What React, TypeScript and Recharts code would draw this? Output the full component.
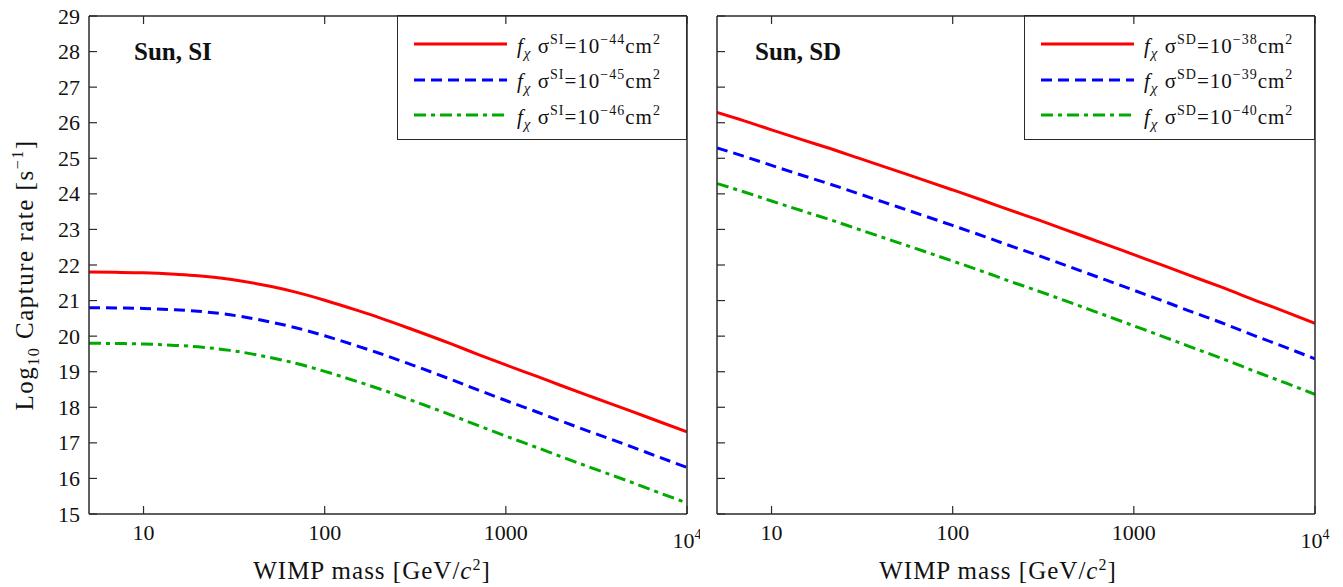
import React from "react";
import { LineChart, Line, XAxis, YAxis, Legend, Label } from "recharts";

const SERIF = '"Liberation Serif", "DejaVu Serif", serif';

// WIMP mass [GeV/c^2]
const masses = [5, 7, 10, 15, 20, 30, 50, 70, 100, 150, 200, 300, 500, 700, 1000, 1500, 2000, 3000, 5000, 7000, 10000];

// log10 capture rate, spin-independent (sigma = 1e-44, 1e-45, 1e-46 cm^2)
const si44 = [21.8, 21.793, 21.78, 21.74, 21.7, 21.6, 21.4, 21.23, 21.01, 20.73, 20.52, 20.2, 19.78, 19.49, 19.19, 18.86, 18.62, 18.29, 17.88, 17.6, 17.31];
const si45 = [20.8, 20.793, 20.78, 20.74, 20.7, 20.6, 20.4, 20.23, 20.01, 19.73, 19.52, 19.2, 18.78, 18.49, 18.19, 17.86, 17.62, 17.29, 16.88, 16.6, 16.31];
const si46 = [19.8, 19.793, 19.78, 19.74, 19.7, 19.6, 19.4, 19.23, 19.01, 18.73, 18.52, 18.2, 17.78, 17.49, 17.19, 16.86, 16.62, 16.29, 15.88, 15.6, 15.31];

// log10 capture rate, spin-dependent (sigma = 1e-38, 1e-39, 1e-40 cm^2)
const sd38 = [26.29, 26.06, 25.8, 25.51, 25.31, 25.01, 24.63, 24.38, 24.11, 23.8, 23.57, 23.26, 22.85, 22.58, 22.29, 21.96, 21.72, 21.39, 20.95, 20.67, 20.36];
const sd39 = [25.29, 25.06, 24.8, 24.51, 24.31, 24.01, 23.63, 23.38, 23.11, 22.8, 22.57, 22.26, 21.85, 21.58, 21.29, 20.96, 20.72, 20.39, 19.95, 19.67, 19.36];
const sd40 = [24.29, 24.06, 23.8, 23.51, 23.31, 23.01, 22.63, 22.38, 22.11, 21.8, 21.57, 21.26, 20.85, 20.58, 20.29, 19.96, 19.72, 19.39, 18.95, 18.67, 18.36];

const massTicks = [10, 100, 1000, 10000];
const rateTicks = [15, 16, 17, 18, 19, 20, 21, 22, 23, 24, 25, 26, 27, 28, 29];

const siExponents = ["44", "45", "46"];
const sdExponents = ["38", "39", "40"];

const colors = ["#ff0000", "#0000ff", "#00aa00"];
const dashes = [undefined, "11 6", "12 5 4 5"];

const siRows = masses.map((m, i) => ({ m, a: si44[i], b: si45[i], c: si46[i] }));
const sdRows = masses.map((m, i) => ({ m, a: sd38[i], b: sd39[i], c: sd40[i] }));

const AXIS = "#2a2a2a";
const axisLine = { stroke: AXIS, strokeWidth: 1.5 };
const TICK = 8;

const BottomTick = (props: any) => {
  const { x, y, payload } = props;
  return (
    <g>
      <line x1={x} y1={y} x2={x} y2={y - TICK} stroke={AXIS} strokeWidth={1.2} />
      {payload.value === 10000 ? (
        <text x={x} y={y + 34} textAnchor="middle" fontFamily={SERIF} fontSize={22} fill="#111">
          10
          <tspan dy={-9} fontSize={14}>4</tspan>
        </text>
      ) : (
        <text x={x} y={y + 26} textAnchor="middle" fontFamily={SERIF} fontSize={22} fill="#111">
          {payload.value}
        </text>
      )}
    </g>
  );
};

const TopTick = (props: any) => {
  const { x, y } = props;
  return <line x1={x} y1={y} x2={x} y2={y + TICK} stroke={AXIS} strokeWidth={1.2} />;
};

const LeftTick = (props: any) => {
  const { x, y, payload, showLabel } = props;
  return (
    <g>
      <line x1={x} y1={y} x2={x + TICK} y2={y} stroke={AXIS} strokeWidth={1.2} />
      {showLabel && (
        <text x={x - 9} y={y} textAnchor="end" dominantBaseline="central" fontFamily={SERIF} fontSize={22} fill="#111">
          {payload.value}
        </text>
      )}
    </g>
  );
};

const RightTick = (props: any) => {
  const { x, y } = props;
  return <line x1={x} y1={y} x2={x - TICK} y2={y} stroke={AXIS} strokeWidth={1.2} />;
};

const XTitle = ({ cx }: { cx: number }) => (
  <text x={cx} y={579} textAnchor="middle" fontFamily={SERIF} fontSize={25} letterSpacing={1} fill="#111">
    WIMP mass [GeV/
    <tspan fontStyle="italic">c</tspan>
    <tspan dy={-9} fontSize={16}>2</tspan>
    <tspan dy={9}>]</tspan>
  </text>
);

const YTitle = () => (
  <text
    transform="rotate(-90)"
    x={-275}
    y={33}
    textAnchor="middle"
    fontFamily={SERIF}
    fontSize={25}
    letterSpacing={1.5}
    fill="#111"
  >
    Log
    <tspan dy={6} fontSize={16}>10</tspan>
    <tspan dy={-6}> Capture rate [s</tspan>
    <tspan dy={-10} fontSize={16}>−1</tspan>
    <tspan dy={10}>]</tspan>
  </text>
);

const LegendBox = ({ kind, exps }: { kind: string; exps: string[] }) => (
  <div
    style={{
      width: "100%",
      height: "100%",
      boxSizing: "border-box",
      border: `1.5px solid ${AXIS}`,
      fontFamily: SERIF,
      fontSize: 21,
      color: "#111",
      position: "relative",
    }}
  >
    {exps.map((e, i) => (
      <div
        key={e}
        style={{
          position: "absolute",
          left: 15,
          top: 13 + i * 35.5,
          height: 30,
          display: "flex",
          alignItems: "center",
          whiteSpace: "nowrap",
          letterSpacing: 1,
        }}
      >
        <svg width={95} height={30} style={{ marginRight: 9 }}>
          <line x1={1} y1={15} x2={94} y2={15} stroke={colors[i]} strokeWidth={3} strokeDasharray={dashes[i]} />
        </svg>
        <span style={{ lineHeight: 1, position: "relative", top: 2 }}>
          <i>f</i>
          <i style={{ fontSize: 15, position: "relative", top: 5 }}>χ</i>
          <span>&nbsp;σ</span>
          <span style={{ fontSize: 14, position: "relative", top: -9 }}>{kind}</span>
          <span>=10</span>
          <span style={{ fontSize: 14, position: "relative", top: -9 }}>−{e}</span>
          <span>cm</span>
          <span style={{ fontSize: 14, position: "relative", top: -9 }}>2</span>
        </span>
      </div>
    ))}
  </div>
);

type PanelProps = {
  rows: any[];
  width: number;
  left: number;
  right: number;
  showYLabels: boolean;
  legendLeft: number;
  legendWidth: number;
  xTitleX: number;
  kind: string;
  exps: string[];
};

const Panel = ({ rows, width, left, right, showYLabels, legendLeft, legendWidth, xTitleX, kind, exps }: PanelProps) => {
  // a zero-width axis is not drawn, so the unlabeled ones get 1px
  const yw = showYLabels ? 60 : 1;
  return (
    <LineChart width={width} height={587} data={rows} margin={{ top: 15, right: right - 1, bottom: 23, left: left - yw }}>
      <XAxis
        xAxisId="b"
        dataKey="m"
        type="number"
        scale="log"
        domain={[5, 10000]}
        allowDataOverflow
        ticks={massTicks}
        interval={0}
        height={50}
        axisLine={axisLine}
        tickLine={false}
        tickSize={0}
        tickMargin={0}
        tick={<BottomTick />}
      >
        <Label content={() => <XTitle cx={xTitleX} />} />
      </XAxis>
      <XAxis
        xAxisId="t"
        orientation="top"
        dataKey="m"
        type="number"
        scale="log"
        domain={[5, 10000]}
        allowDataOverflow
        ticks={massTicks}
        interval={0}
        height={1}
        axisLine={axisLine}
        tickLine={false}
        tickSize={0}
        tickMargin={0}
        tick={<TopTick />}
      />
      <YAxis
        yAxisId="l"
        type="number"
        domain={[15, 29]}
        ticks={rateTicks}
        interval={0}
        width={yw}
        axisLine={axisLine}
        tickLine={false}
        tickSize={0}
        tickMargin={0}
        tick={<LeftTick showLabel={showYLabels} />}
      >
        {showYLabels && <Label content={() => <YTitle />} />}
      </YAxis>
      <YAxis
        yAxisId="r"
        orientation="right"
        type="number"
        domain={[15, 29]}
        ticks={rateTicks}
        interval={0}
        width={1}
        axisLine={axisLine}
        tickLine={false}
        tickSize={0}
        tickMargin={0}
        tick={<RightTick />}
      />
      {["a", "b", "c"].map((k, i) => (
        <Line
          key={k}
          xAxisId="b"
          yAxisId="l"
          dataKey={k}
          type="monotone"
          stroke={colors[i]}
          strokeWidth={3}
          strokeDasharray={dashes[i]}
          dot={false}
          activeDot={false}
          isAnimationActive={false}
        />
      ))}
      <Legend
        layout="vertical"
        align="center"
        verticalAlign="middle"
        wrapperStyle={{ left: legendLeft, top: 15, width: legendWidth, height: 125 }}
        content={() => <LegendBox kind={kind} exps={exps} />}
      />
    </LineChart>
  );
};

const titleStyle: React.CSSProperties = {
  position: "absolute",
  top: 39,
  fontFamily: SERIF,
  fontWeight: "bold",
  fontSize: 25,
  lineHeight: 1,
  color: "#111",
  whiteSpace: "nowrap",
};

export default function App() {
  return (
    <div style={{ position: "fixed", left: 0, top: 0, width: 1343, height: 587, background: "#fff", overflow: "hidden" }}>
      <div style={{ position: "absolute", left: 0, top: 0 }}>
        <Panel
          rows={siRows}
          width={700}
          left={89}
          right={13}
          showYLabels
          legendLeft={397}
          legendWidth={290}
          xTitleX={372}
          kind="SI"
          exps={siExponents}
        />
      </div>
      <div style={{ position: "absolute", left: 700, top: 0 }}>
        <Panel
          rows={sdRows}
          width={643}
          left={17}
          right={28}
          showYLabels={false}
          legendLeft={324}
          legendWidth={291}
          xTitleX={298}
          kind="SD"
          exps={sdExponents}
        />
      </div>
      <div style={{ ...titleStyle, left: 134 }}>Sun, SI</div>
      <div style={{ ...titleStyle, left: 755 }}>Sun, SD</div>
    </div>
  );
}
